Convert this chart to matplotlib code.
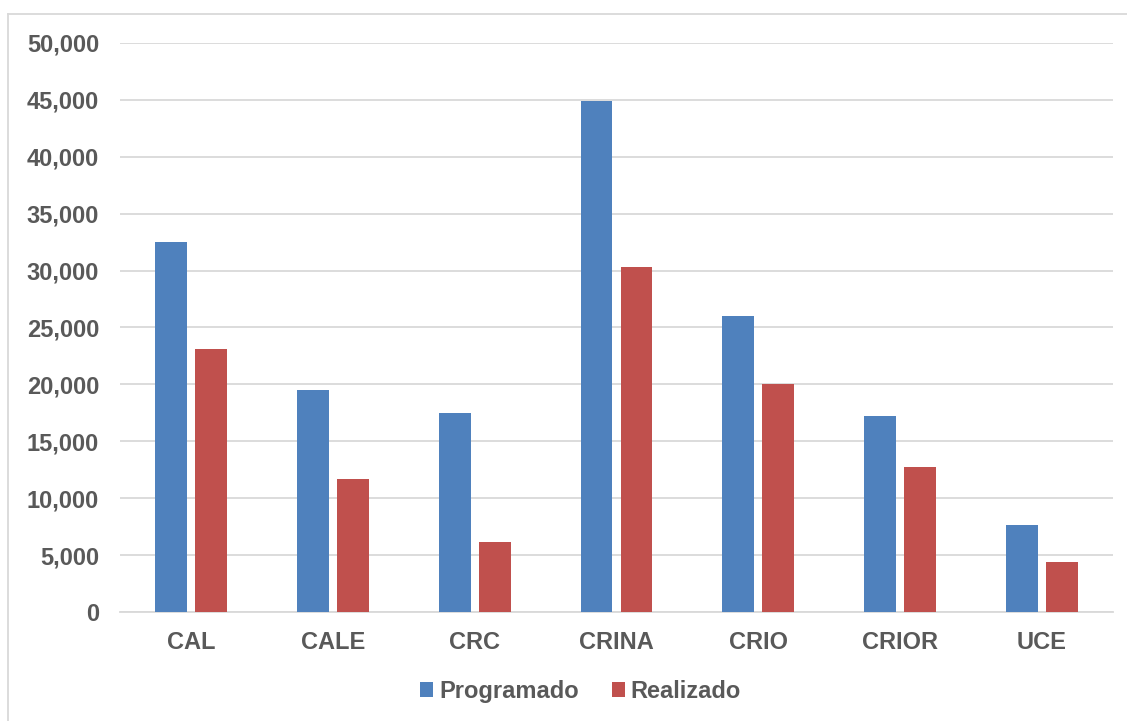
import numpy as np
import matplotlib.pyplot as plt
from matplotlib.lines import Line2D
from matplotlib.ticker import FuncFormatter

categories = ["CAL", "CALE", "CRC", "CRINA", "CRIO", "CRIOR", "UCE"]
programado = [32500, 19500, 17500, 44900, 26000, 17200, 7600]
realizado = [23100, 11700, 6150, 30300, 20000, 12750, 4400]

blue = "#4F81BD"
red = "#C0504D"
txt = "#595959"

plt.rcParams['font.family'] = ['Liberation Sans', 'DejaVu Sans']

fig = plt.figure(figsize=(11.27, 7.21), dpi=100)
ax = fig.add_axes([0.1065, 0.1512, 0.881, 0.7892])

x = np.arange(len(categories))
w = 0.225
off = 0.141
ax.bar(x - off, programado, w, color=blue, label="Programado", zorder=3)
ax.bar(x + off, realizado, w, color=red, label="Realizado", zorder=3)

ax.set_xlim(-0.5, len(categories) - 0.5)
ax.set_ylim(0, 50000)
ax.set_yticks(np.arange(0, 50001, 5000))
ax.yaxis.set_major_formatter(FuncFormatter(lambda v, p: f"{int(v):,}"))
ax.grid(axis="y", color="#D9D9D9", linewidth=1.3, zorder=0)
ax.set_xticks(x)
ax.set_xticklabels(categories)

for s in ["top", "right", "left"]:
    ax.spines[s].set_visible(False)
ax.spines["bottom"].set_color("#D9D9D9")
ax.spines["bottom"].set_linewidth(1.3)
ax.tick_params(axis="both", length=0, labelsize=17, labelcolor=txt)
ax.tick_params(axis="x", pad=14)
ax.tick_params(axis="y", pad=15)
for lab in ax.get_xticklabels() + ax.get_yticklabels():
    lab.set_fontweight("bold")

fig.legend(loc="center", bbox_to_anchor=(0.515, 0.041), ncol=2, frameon=False,
           prop={"size": 17, "weight": "bold"}, labelcolor=txt,
           handlelength=0.55, handleheight=0.55, handletextpad=0.25, columnspacing=1.4)

# chart-area outline: only the left and top edges show in the picture
bx, by = 8 / 1127, 1 - 14 / 721
fig.add_artist(Line2D([bx, bx], [0, by], transform=fig.transFigure, color="#D9D9D9", lw=1.3))
fig.add_artist(Line2D([bx, 1], [by, by], transform=fig.transFigure, color="#D9D9D9", lw=1.3))

fig.savefig("out.png", dpi=100)
